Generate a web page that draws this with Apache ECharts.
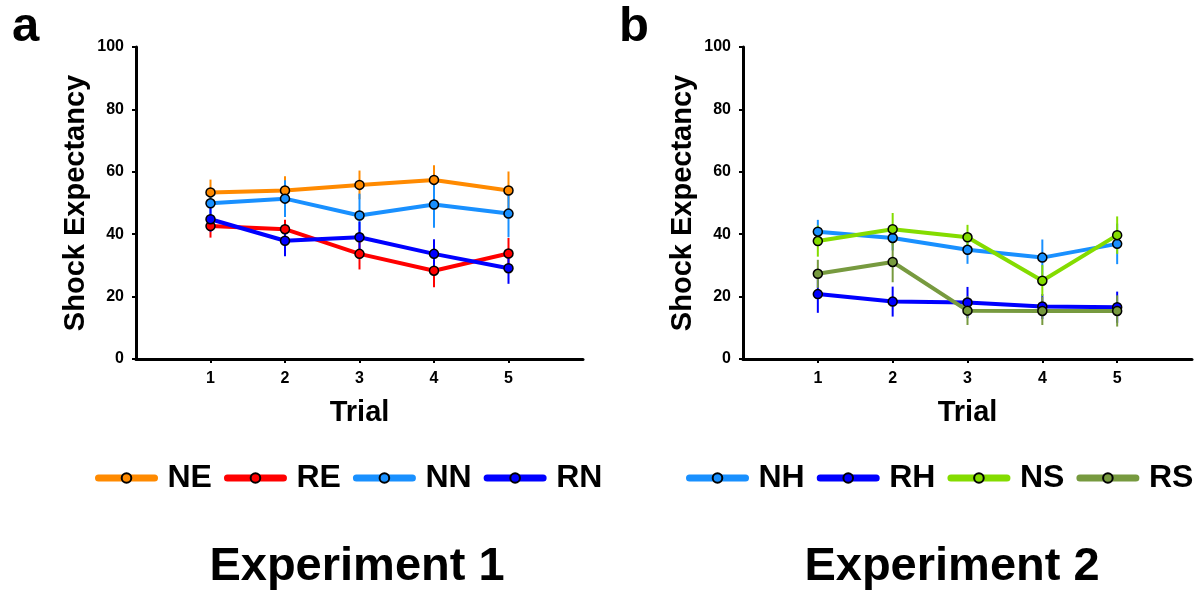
<!DOCTYPE html>
<html><head><meta charset="utf-8">
<script src="https://cdn.jsdelivr.net/npm/echarts@6/dist/echarts.min.js"></script>
<style>html,body{margin:0;padding:0;background:#fff}#c{width:1200px;height:594px}</style>
</head><body><div id="c"></div>
<script>
const trials = [1, 2, 3, 4, 5];
const yTicks = [0, 20, 40, 60, 80, 100];

// Experiment 1
const namesA = ['NE', 'RE', 'NN', 'RN'];
const NE = [53.4, 54.0, 55.8, 57.4, 54.0];
const RE = [42.6, 41.6, 33.7, 28.3, 33.8];
const NN = [49.9, 51.4, 46.0, 49.5, 46.6];
const RN = [44.8, 37.9, 39.0, 33.7, 29.1];
const errNE = [4.1, 4.6, 4.6, 4.7, 6.1];
const errRE = [3.7, 3.0, 5.0, 5.3, 5.0];
const errNN = [4.0, 5.9, 7.0, 7.4, 7.6];
const errRN = [4.0, 5.0, 5.0, 4.7, 5.0];

// Experiment 2
const namesB = ['NH', 'RH', 'NS', 'RS'];
const NH = [40.8, 38.8, 35.0, 32.5, 36.9];
const RH = [20.8, 18.4, 18.1, 16.8, 16.6];
const NS = [37.8, 41.6, 39.0, 25.1, 39.7];
const RS = [27.3, 31.1, 15.5, 15.4, 15.4];
const errNH = [3.8, 4.0, 4.5, 5.8, 6.5];
const errRH = [6.0, 4.8, 5.0, 4.0, 5.0];
const errNS = [5.0, 5.2, 4.0, 5.0, 6.0];
const errRS = [4.5, 6.5, 4.6, 4.5, 5.0];

const colors = {NE:'#ff8a00', RE:'#ff0000', NN:'#1990ff', RN:'#0000ff',
                NH:'#1990ff', RH:'#0000ff', NS:'#84dc00', RS:'#779a3f'};
const FONT = '"Liberation Sans", Arial, sans-serif';

const chart = echarts.init(document.getElementById('c'), null, {renderer:'canvas'});

function errSeries(name, means, errs, idx) {
  return {
    type: 'custom', name: name + '_err', xAxisIndex: idx, yAxisIndex: idx, z: 1,
    silent: true, legendHoverLink: false,
    data: trials.map((t, i) => [t, means[i], errs[i]]),
    encode: {x: 0, y: 1},
    renderItem: function (params, api) {
      const x = api.value(0), m = api.value(1), e = api.value(2);
      const p1 = api.coord([x, m - e]), p2 = api.coord([x, m + e]);
      return {type: 'line', shape: {x1: p1[0], y1: p1[1], x2: p2[0], y2: p2[1]},
              style: {stroke: colors[name], lineWidth: 2}};
    }
  };
}
function lineSeries(name, means, idx, z) {
  return {
    type: 'line', name: name, xAxisIndex: idx, yAxisIndex: idx, z: z,
    data: trials.map((t, i) => [t, means[i]]),
    symbol: 'circle', symbolSize: 9, showAllSymbol: true,
    lineStyle: {color: colors[name], width: 4},
    itemStyle: {color: colors[name], borderColor: '#000', borderWidth: 1.5},
    emphasis: {disabled: true}, animation: false
  };
}

function xAx(idx) {
  return {
    type: 'value', gridIndex: idx, min: 0, max: 6, interval: 1,
    name: 'Trial', nameLocation: 'middle', nameGap: 39,
    nameTextStyle: {fontFamily: FONT, fontWeight: 'bold', fontSize: 29, color: '#000'},
    axisLine: {onZero: false, lineStyle: {color: '#000', width: 3}},
    axisTick: {show: true, customValues: trials, length: 4, lineStyle: {color: '#000', width: 2}},
    axisLabel: {customValues: trials, fontFamily: FONT, fontWeight: 'bold', fontSize: 16, color: '#000', margin: 12},
    splitLine: {show: false}
  };
}
function yAx(idx) {
  return {
    type: 'value', gridIndex: idx, min: 0, max: 100, interval: 20,
    name: 'Shock Expectancy', nameLocation: 'middle', nameGap: 46, nameRotate: 90,
    nameTextStyle: {fontFamily: FONT, fontWeight: 'bold', fontSize: 29, color: '#000'},
    axisLine: {show: true, onZero: false, lineStyle: {color: '#000', width: 3}},
    axisTick: {show: true, length: 4, lineStyle: {color: '#000', width: 2}},
    axisLabel: {fontFamily: FONT, fontWeight: 'bold', fontSize: 16, color: '#000', margin: 12},
    splitLine: {show: false}
  };
}

const series = [];
const dA = {NE, RE, NN, RN}, eA = {NE: errNE, RE: errRE, NN: errNN, RN: errRN};
const dB = {NH, RH, NS, RS}, eB = {NH: errNH, RH: errRH, NS: errNS, RS: errRS};
namesA.forEach(n => series.push(errSeries(n, dA[n], eA[n], 0)));
namesB.forEach(n => series.push(errSeries(n, dB[n], eB[n], 1)));
namesA.forEach((n, i) => series.push(lineSeries(n, dA[n], 0, 3 + i)));
namesB.forEach((n, i) => series.push(lineSeries(n, dB[n], 1, 3 + i)));

function legend(names, left) {
  return {
    data: names, left: left, top: 462, width: 560, orient: 'horizontal', padding: 0,
    itemWidth: 56, itemHeight: 12, itemGap: 12,
    lineStyle: {width: 7, cap: 'round'},
    textStyle: {fontFamily: FONT, fontWeight: 'bold', fontSize: 32, color: '#000', padding: [0, 0, 0, 8]},
    selectedMode: false
  };
}

chart.setOption({
  animation: false,
  backgroundColor: '#fff',
  grid: [
    {left: 136, top: 47, width: 447, height: 312},
    {left: 743, top: 47, width: 449, height: 312}
  ],
  xAxis: [xAx(0), xAx(1)],
  yAxis: [yAx(0), yAx(1)],
  legend: [legend(namesA, 95), legend(namesB, 686)],
  title: [
    {text: 'a', left: 7, top: -2, textStyle: {fontFamily: FONT, fontWeight: 'bold', fontSize: 49, color: '#000'}},
    {text: 'b', left: 614, top: -2, textStyle: {fontFamily: FONT, fontWeight: 'bold', fontSize: 49, color: '#000'}},
    {text: 'Experiment 1', left: 352, top: 539, textAlign: 'center', textStyle: {fontFamily: FONT, fontWeight: 'bold', fontSize: 47, color: '#000'}},
    {text: 'Experiment 2', left: 947, top: 539, textAlign: 'center', textStyle: {fontFamily: FONT, fontWeight: 'bold', fontSize: 47, color: '#000'}}
  ],
  series: series
});
</script></body></html>
